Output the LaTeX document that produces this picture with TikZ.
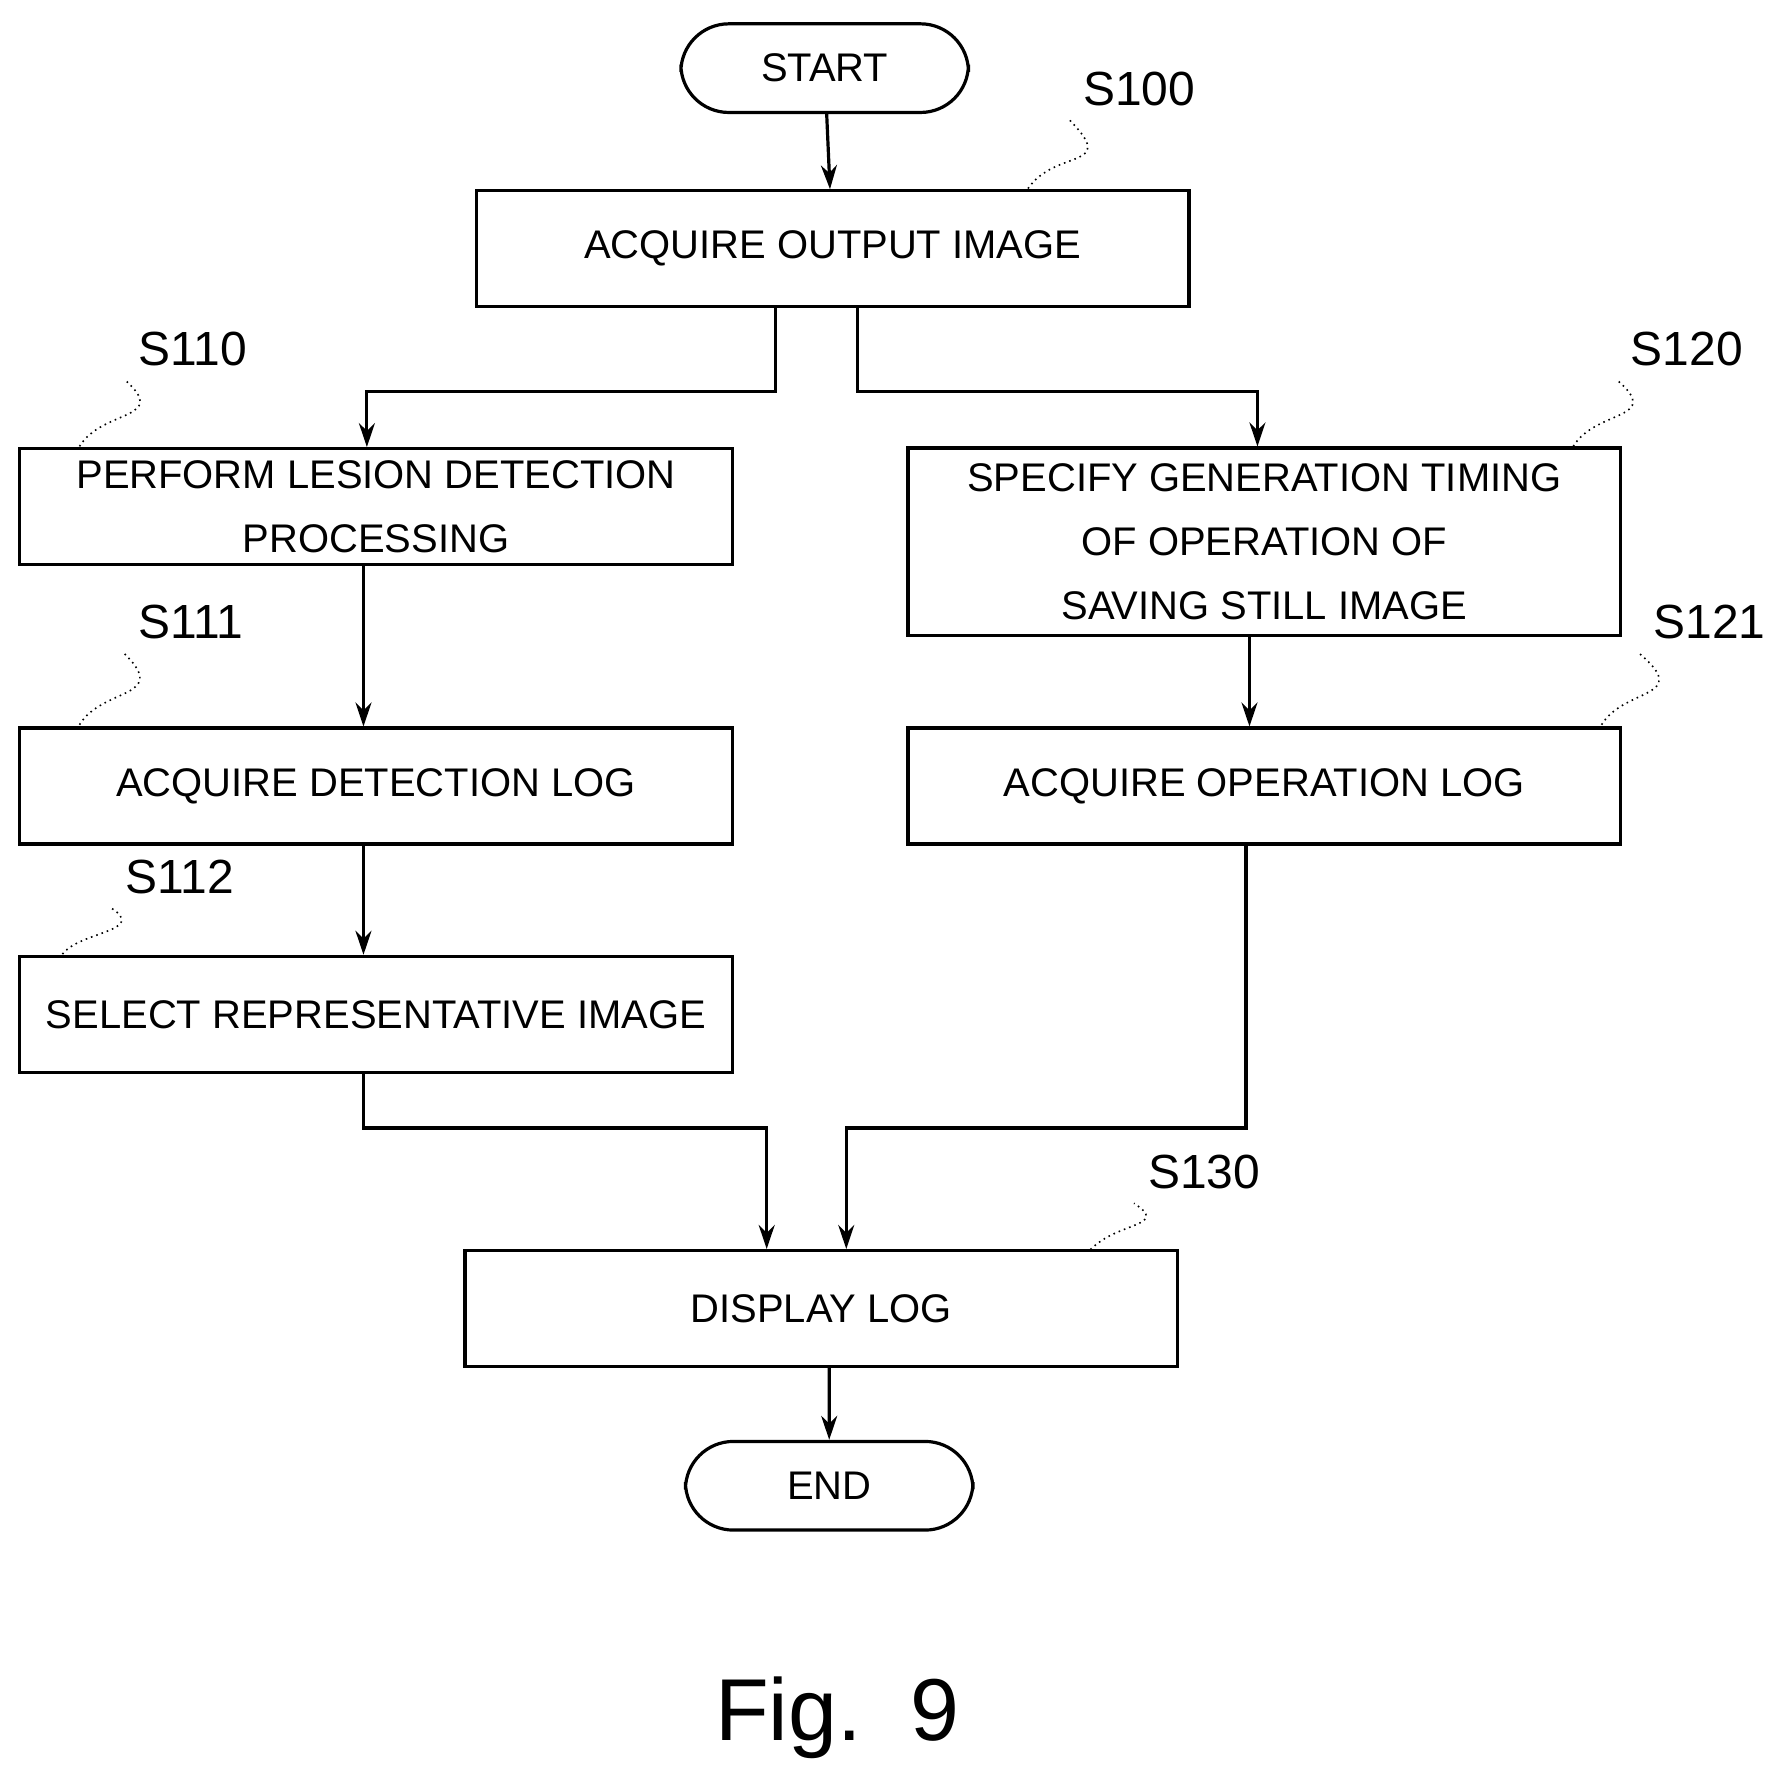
\documentclass[tikz,border=0pt]{standalone}
\usepackage{fontspec}
\setmainfont{Liberation Sans}
\usetikzlibrary{arrows.meta,positioning}
\begin{document}
\begin{tikzpicture}[x=0.01cm,y=-0.01cm,
stepnode/.style={rectangle, draw, thick, minimum width=6.27cm, minimum height=1.02cm, align=center, inner sep=0pt, font=\fontsize{10}{16}\selectfont},
termnode/.style={rectangle, rounded corners=12pt, draw, thick, minimum width=2.53cm, minimum height=0.78cm, font=\fontsize{10}{12}\selectfont},
steplabel/.style={font=\fontsize{12}{14}\selectfont},
flow/.style={thick, -{Stealth[length=6pt,width=4pt]}},
tie/.style={densely dotted, thin}
]
\useasboundingbox (0,0) rectangle (1560,1555);
%Nodes
\node[termnode] (start) at (726,60) {START};
\node[stepnode] (s100) at (733,219) {ACQUIRE OUTPUT IMAGE};
\node[stepnode] (s110) at (331,446) {PERFORM LESION DETECTION\\PROCESSING};
\node[stepnode, minimum height=1.65cm] (s120) at (1113,477) {SPECIFY GENERATION TIMING\\OF OPERATION OF\\SAVING STILL IMAGE};
\node[stepnode] (s111) at (331,692) {ACQUIRE DETECTION LOG};
\node[stepnode] (s121) at (1113,692) {ACQUIRE OPERATION LOG};
\node[stepnode] (s112) at (331,893) {SELECT REPRESENTATIVE IMAGE};
\node[stepnode] (s130) at (723,1152) {DISPLAY LOG};
\node[termnode] (end) at (730,1308) {END};
\node[font=\fontsize{22}{24}\selectfont] (fig) at (737,1512) {Fig.~~9};
%Labels
\node[steplabel] (l100) at (1003,78) {S100};
\node[steplabel] (l110) at (170,307) {S110};
\node[steplabel] (l120) at (1485,307) {S120};
\node[steplabel] (l111) at (168,548) {S111};
\node[steplabel] (l121) at (1505,548) {S121};
\node[steplabel] (l112) at (158,772) {S112};
\node[steplabel] (l130) at (1060,1032) {S130};
\coordinate (t100) at (905,166);
\coordinate (t110) at (70,393);
\coordinate (t120) at (1385,393);
\coordinate (t111) at (70,638);
\coordinate (t121) at (1410,638);
\coordinate (t112) at (55,840);
\coordinate (t130) at (960,1100);
\draw[tie] (t100) .. controls (930,130) and (985,150) .. (l100.south west);
\draw[tie] (t110) .. controls (90,360) and (150,370) .. (l110.south west);
\draw[tie] (t120) .. controls (1405,360) and (1465,370) .. (l120.south west);
\draw[tie] (t111) .. controls (90,605) and (150,615) .. (l111.south west);
\draw[tie] (t121) .. controls (1430,605) and (1490,615) .. (l121.south west);
\draw[tie] (t112) .. controls (70,820) and (130,820) .. (l112.south west);
\draw[tie] (t130) .. controls (985,1075) and (1030,1080) .. (l130.south west);
%Lines
\draw[flow] (start) -- (s100);
\draw[flow] ([xshift=-0.5cm]s100.south) |- ([xshift=-0.08cm]s110.north |- 0,345) -- ([xshift=-0.08cm]s110.north);
\draw[flow] ([xshift=0.22cm]s100.south) |- ([xshift=-0.06cm]s120.north |- 0,345) -- ([xshift=-0.06cm]s120.north);
\draw[flow] ([xshift=-0.11cm]s110.south) -- ([xshift=-0.11cm]s111.north);
\draw[flow] ([xshift=-0.11cm]s111.south) -- ([xshift=-0.11cm]s112.north);
\draw[flow] ([xshift=-0.13cm]s120.south) -- ([xshift=-0.13cm]s121.north);
\draw[flow] ([xshift=-0.11cm]s112.south) |- ([xshift=-0.48cm]s130.north |- 0,993) -- ([xshift=-0.48cm]s130.north);
\draw[flow] ([xshift=-0.16cm]s121.south) |- ([xshift=0.22cm]s130.north |- 0,993) -- ([xshift=0.22cm]s130.north);
\draw[flow] ([xshift=0.07cm]s130.south) -- (end);
\end{tikzpicture}
\end{document}
